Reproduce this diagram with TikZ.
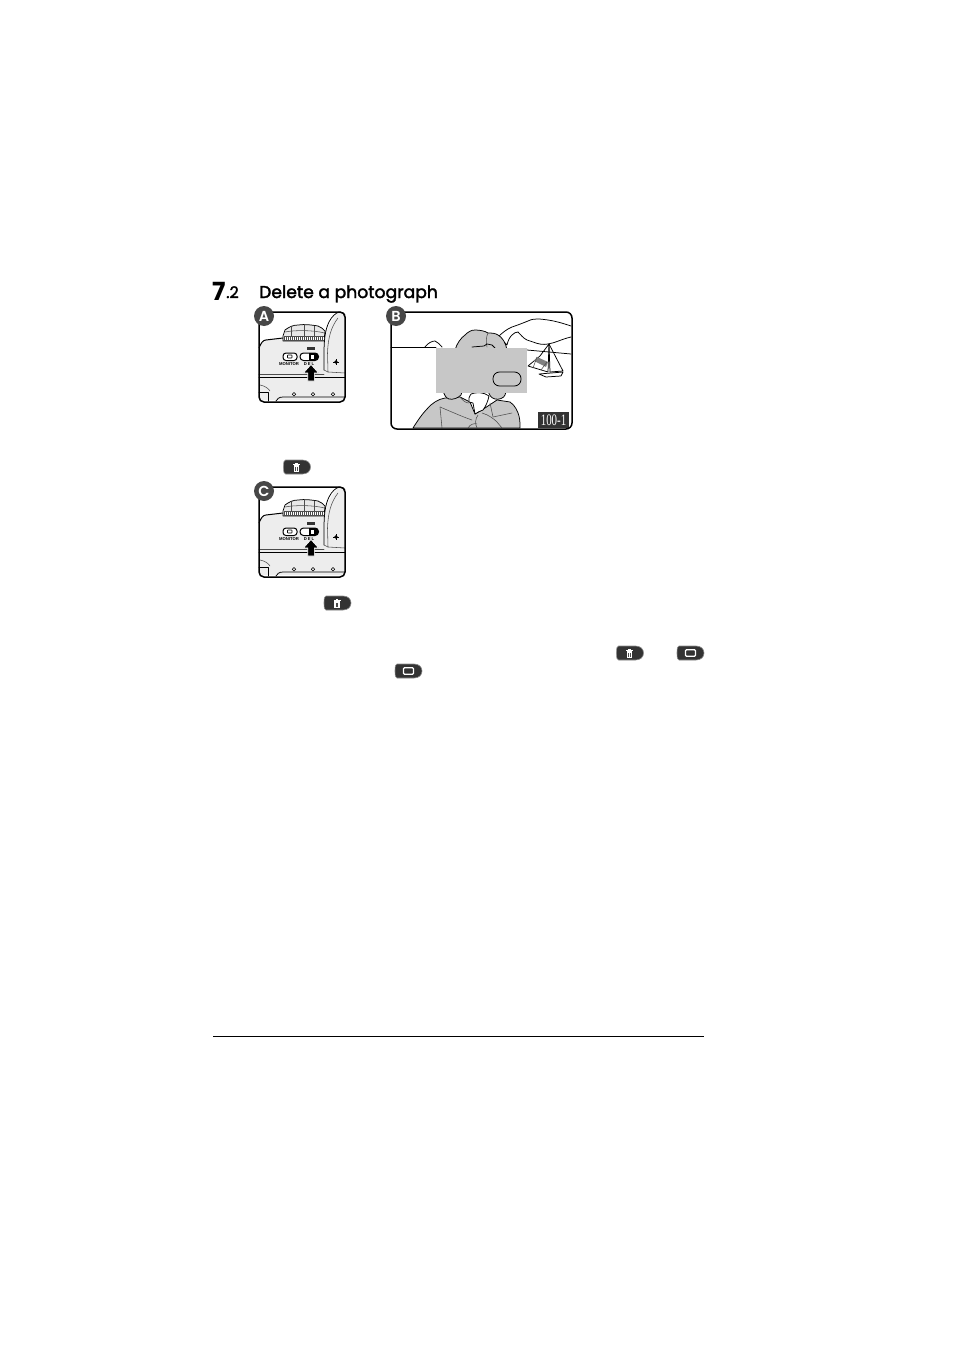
\documentclass[tikz,border=0pt]{standalone}
\usepackage{fontspec}
\setmainfont{Liberation Sans}
\newfontfamily\headfont[FakeBold=2]{Poppins}
\newfontfamily\badgefont{Poppins SemiBold}
\newfontfamily\sevenfont{Poppins Bold}
\newfontfamily\capfont{Liberation Serif}
\tikzset{
  ink/.style={draw=black,line width=0.75pt,line join=round,line cap=round},
  thin ink/.style={draw=black!70,line width=0.55pt,line join=round,line cap=round},
  heavy/.style={draw=black,line width=1.5pt,line join=round},
  badge/.style={circle,fill=black!72,draw=none,minimum size=20pt,inner sep=0pt,text=white,font=\fontsize{14.5}{14.5}\selectfont},
  pill/.style={fill=black!80,draw=black!45,line width=0.6pt},
  icon/.style={draw=white,line width=1.3pt,fill=none},
  heading/.style={inner sep=0pt,anchor=base west,font=\headfont\fontsize{17.2}{17.2}\selectfont},
  camlabel/.style={inner sep=0pt,font=\fontsize{4.2}{4.2}\selectfont\bfseries},
  photofill/.style={fill=black!22}
}
\newcommand{\pillshape}{(2,0) -- (19,0) .. controls (24,0) and (27,3) .. (27,7) .. controls (27,11) and (24,14) .. (19,14) -- (2,14) .. controls (0.5,14) and (0,12) .. (0,7) .. controls (0,2) and (0.5,0) .. (2,0) -- cycle}
\newcommand{\trashpill}[2]{\begin{scope}[shift={(#1,#2)}]
  \path[pill] \pillshape;
  \fill[white] (9.5,4.3) rectangle (16.5,5.4);
  \fill[white] (11.7,2.8) rectangle (14.3,4.3);
  \fill[white] (10.3,5.4) rectangle (15.7,11.8);
  \fill[black!70] (11.8,6.5) rectangle (12.6,10.8);
  \fill[black!70] (13.4,6.5) rectangle (14.2,10.8);
\end{scope}}
\newcommand{\rectpill}[2]{\begin{scope}[shift={(#1,#2)}]
  \path[pill] \pillshape;
  \draw[icon,rounded corners=1pt] (8.5,3.8) rectangle (18.5,10.2);
\end{scope}}
\newcommand{\camera}[3]{\begin{scope}[shift={(#1,#2)}]
  % body fill
  \fill[black!7] (0,34) .. controls (2,30) and (4,27) .. (7,27) -- (23,25) -- (65,29) -- (65,40) .. controls (65,25) and (68,10) .. (80,-1) -- (86,2) -- (86,87) -- (0,87) -- cycle;
  % prism hump
  \draw[ink] (65,57) -- (65,40) .. controls (65,28) and (66,17) .. (70,9) .. controls (73,3) and (77,0) .. (80,-1) .. controls (83,-1) and (85,0) .. (86,2);
  \draw[thin ink] (69,59) -- (68.5,40) .. controls (69,25) and (72,14) .. (79,5);
  \draw[thin ink] (65,57) -- (69,59) -- (86,60);
  % body top
  \draw[heavy,line width=1pt] (0,35) .. controls (2,30) and (4,27) .. (7,27) -- (24,25);
  % dial
  \path[ink,fill=black!9] (24,28) -- (24,23) -- (26,17) .. controls (30,14) and (34,12) .. (39,12) .. controls (46,11) and (53,12) .. (59,13) .. controls (62,14) and (64,16) .. (66,18) -- (65,28) -- cycle;
  \draw[thin ink] (32,14) -- (32,23) (45,12) -- (45,23) (55,13) -- (55,23);
  \draw[thin ink] (26,19) .. controls (36,17) and (54,17) .. (65.5,20);
  \fill[black!70] (24.5,23) rectangle (65,28);
  \foreach \q in {26,28,...,64} {\draw[white,line width=0.6pt] (\q,23.8) -- (\q,27.2);}
  % body lines
  \draw[thin ink] (0,61) -- (65,61);
  \draw[ink] (0,64) -- (86,64);
  \draw[thin ink] (1,72) .. controls (6,73) and (9,75) .. (11,78);
  \draw[ink] (0,79) -- (9,79) -- (9,88);
  \draw[ink] (17,88) .. controls (18,86) and (20,84) .. (24,84) -- (86,84);
  % diamonds
  \foreach \q in {35,54,74} {\draw[black,line width=0.55pt] (\q,79.5) -- (\q+1.8,81.3) -- (\q,83.1) -- (\q-1.8,81.3) -- cycle;}
  % wheel
  \fill[black] (77,49) circle (1.9pt);
  \draw[black,line width=0.4pt] (74.2,49) -- (79.8,49) (77,46.2) -- (77,51.8);
  % buttons
  \draw[black,line width=1pt,fill=white,rounded corners=3pt] (24,40) rectangle (38,47.5);
  \draw[black,line width=0.6pt,rounded corners=0.5pt] (28.5,42) rectangle (33,45);
  \draw[black,line width=1pt,fill=white,rounded corners=3.5pt] (41,40) rectangle (59.5,47.5);
  \fill[black,rounded corners=3.5pt] (50,40) rectangle (59.5,47.5);
  \fill[black] (50,40) rectangle (53,47.5);
  \fill[white] (51.5,41.5) rectangle (54.5,46);
  \fill[black!80] (48,34) rectangle (55.5,37);
  \node[camlabel] (mon#3) at (30,50.8) {MONITOR};
  \node[camlabel] (del#3) at (50,50.8) {D\kern1pt E\kern1pt L};
  % arrow
  \path[fill=black,draw=white,line width=0.6pt] (52,51.5) -- (59.5,60) -- (55.3,60) -- (55.3,68) -- (48.7,68) -- (48.7,60) -- (44.5,60) -- cycle;
  % frame
  \draw[heavy,rounded corners=5pt] (0,-1) -- (86,-1) -- (86,89) -- (0,89) -- cycle;
\end{scope}}
\begin{document}
\begin{tikzpicture}[x=1pt,y=-1pt]
\useasboundingbox (0,0) rectangle (954,1351);
\fill[white] (0,0) rectangle (954,1351);
% heading
\node[inner sep=0pt,anchor=base west,font=\sevenfont\fontsize{25}{25}\selectfont] (seven) at (212,300.5) {7};
\node[inner sep=0pt,anchor=base west,font=\headfont\fontsize{16}{16}\selectfont] (sect) at (226,298) {.2};
\node[heading] (title) at (259,298) {Delete a photograph};
% camera A and C
\camera{259}{313}{A}
\camera{259}{488}{C}
% photo B : landscape
\draw[ink] (391,347) -- (436,347);
\draw[ink] (527,350) -- (571,354);
\draw[ink] (425,347) .. controls (428,343) and (432,341) .. (435,341) .. controls (438,342) and (440,345) .. (442,347);
\draw[ink] (498,337) .. controls (502,333) and (507,329) .. (512,327) .. controls (518,325) and (523,323) .. (528,321) .. controls (532,319) and (535,319) .. (538,319) .. controls (543,319) and (546,320) .. (548,320) .. controls (555,321) and (562,323) .. (571,326);
\draw[ink] (502,340) -- (507,345) .. controls (508,340) and (510,337) .. (512,335) .. controls (514,333) and (516,332) .. (518,332) .. controls (521,335) and (523,338) .. (527,340) -- (533,342) .. controls (538,344) and (543,345) .. (548,344) .. controls (555,343) and (562,339) .. (571,337);
% sailboat
\draw[ink] (549,344) -- (550,372);
\draw[ink] (549,344) -- (563,371) -- (550,372);
\draw[ink] (549,344) -- (540,356) -- (528,366) -- (548,372) -- (549,344);
\fill[black!50] (537,357) -- (548,362) -- (546,367) -- (534,361) -- cycle;
\draw[thin ink] (533,368) -- (537,357) (541,370) -- (547,362);
\draw[ink] (539,374) -- (563,372) -- (561,376) -- (546,377) -- cycle;
% photo B : person
\path[ink,photofill] (413,428) .. controls (418,420) and (423,413) .. (427,409) .. controls (431,404) and (438,399) .. (445,398) -- (460,397) -- (470,402) -- (475,414) -- (482,410) -- (497,400) -- (510,402) .. controls (515,405) and (518,412) .. (519,416) .. controls (520,420) and (520,424) .. (520,428) -- cycle;
\path[ink,photofill] (455,350) .. controls (457,343) and (461,338) .. (465,335) .. controls (468,332) and (471,330) .. (475,330) .. controls (480,330) and (485,331) .. (488,333) .. controls (491,333) and (495,333) .. (498,335) .. controls (502,337) and (506,343) .. (507,350) -- cycle;
\draw[thin ink] (488,333) .. controls (486,337) and (486,342) .. (487,347);
\draw[ink] (472,347) -- (484,346) -- (487,344) -- (492,345) -- (495,348);
% hair below the box
\path[ink,photofill] (443,390) .. controls (444,395) and (446,398) .. (449,399) .. controls (453,400) and (458,398) .. (461,395) .. controls (462,393) and (462,391) .. (462,390) -- cycle;
\path[ink,photofill] (488,390) .. controls (489,395) and (491,398) .. (495,399) .. controls (499,400) and (504,398) .. (505,395) .. controls (506,393) and (506,391) .. (506,390) -- cycle;
% hand
\path[ink,fill=white] (471,394) .. controls (469,397) and (468,400) .. (469,402) -- (473,403) -- (475,414) .. controls (478,412) and (480,411) .. (483,410) .. controls (486,406) and (488,401) .. (489,396) .. controls (484,392) and (476,392) .. (471,394) -- cycle;
\draw[thin ink] (440,407) -- (442,428);
\draw[thin ink] (440,407) .. controls (452,412) and (463,417) .. (472,420);
\draw[thin ink] (478,415) .. controls (475,419) and (475,424) .. (477,428);
\draw[thin ink] (482,413) .. controls (489,415) and (494,419) .. (497,422) -- (502,428);
\draw[thin ink] (490,403) -- (493,417) -- (512,413);
\draw[thin ink] (468,428) .. controls (470,424) and (475,423) .. (477,424);
\draw[thin ink] (460,397) .. controls (463,401) and (466,403) .. (469,403);
% gray box
\fill[black!22] (436,348) rectangle (527,393);
\draw[black,line width=0.8pt,fill=black!22,rounded corners=6.5pt] (493,372) rectangle (521,386);
% caption box and frame
\fill[black!80] (538,412) rectangle (569,428);
\node[inner sep=0pt,text=white,font=\capfont\fontsize{16}{16}\selectfont] (caption) at (553.5,420.5) {\scalebox{0.68}[1]{100-1}};
\draw[heavy,rounded corners=6pt] (391,312) rectangle (572,429);
% badges
\node[badge] (ba) at (264,316) {\badgefont A};
\node[badge] (bb) at (396,316) {\badgefont B};
\node[badge] (bc) at (264,491) {\badgefont C};
% key pills
\trashpill{283.5}{460}
\trashpill{324}{596}
\trashpill{616.5}{646}
\rectpill{677}{646}
\rectpill{395}{664}
% foot rule
\draw[black,line width=1pt] (213,1036) -- (704,1036);
\end{tikzpicture}
\end{document}
